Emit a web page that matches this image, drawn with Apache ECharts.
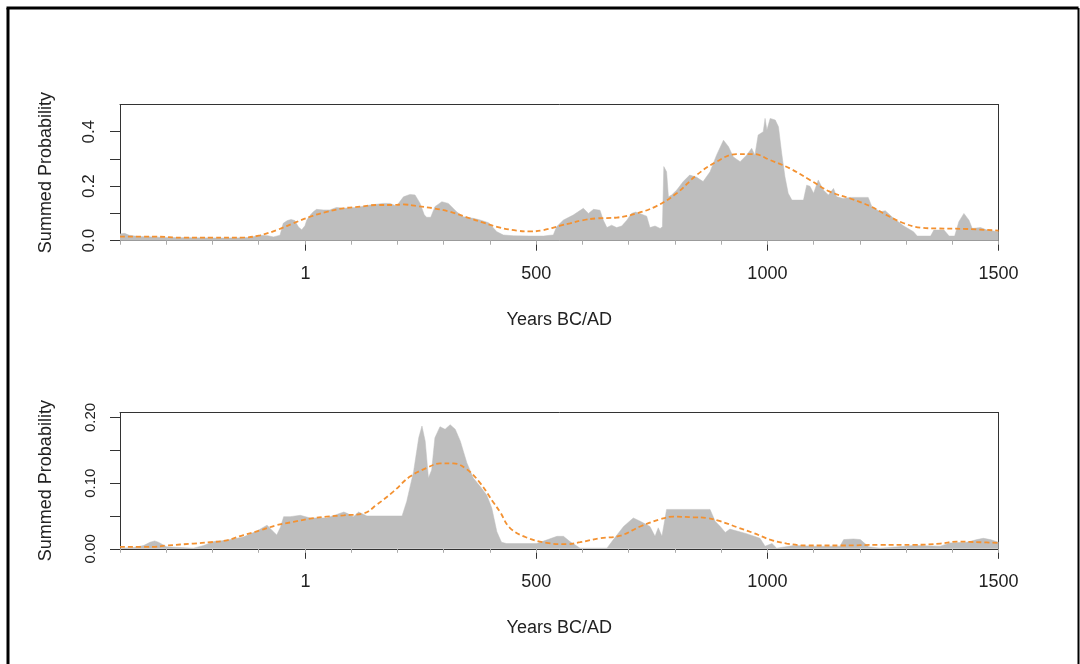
<!DOCTYPE html>
<html><head><meta charset="utf-8">
<script src="https://cdn.jsdelivr.net/npm/echarts@6/dist/echarts.min.js"></script>
<style>html,body{margin:0;padding:0;background:#fff}#c{width:1080px;height:664px}</style>
</head><body><div id="c"></div>
<script>
// Years BC/AD (negative = BC)
const xMajorTicks = [1, 500, 1000, 1500];
const xMajorLabels = ['1', '500', '1000', '1500'];
const topYTicks = [0, 0.1, 0.2, 0.3, 0.4];
const topYLabels = [0, 0.2, 0.4];
const botYTicks = [0, 0.05, 0.1, 0.15, 0.2];
const botYLabels = [0, 0.1, 0.2];

// Top panel: summed probability (grey) [year, value]
const topSummed = [
[-400,0.025],[-390,0.027],[-380,0.02],[-360,0.015],[-330,0.014],[-300,0.012],[-250,0.011],[-200,0.01],[-150,0.01],[-120,0.012],[-97,0.02],[-80,0.018],[-68,0.014],[-54,0.02],[-47,0.064],[-38,0.074],[-30,0.078],[-22,0.074],[-14,0.05],[-7,0.04],[0,0.055],[4,0.076],[12,0.095],[18,0.106],[25,0.115],[40,0.113],[54,0.113],[68,0.122],[83,0.119],[112,0.122],[141,0.131],[169,0.137],[184,0.137],[198,0.127],[213,0.161],[227,0.17],[238,0.168],[249,0.137],[258,0.095],[263,0.086],[272,0.086],[281,0.125],[296,0.143],[310,0.137],[328,0.106],[342,0.088],[364,0.082],[379,0.076],[397,0.066],[415,0.033],[429,0.021],[451,0.018],[487,0.017],[516,0.017],[530,0.02],[537,0.021],[544,0.051],[559,0.076],[580,0.094],[602,0.119],[613,0.1],[624,0.115],[638,0.112],[645,0.076],[653,0.048],[663,0.057],[674,0.048],[685,0.054],[696,0.075],[706,0.1],[715,0.105],[724,0.1],[739,0.09],[746,0.048],[757,0.054],[768,0.045],[773,0.051],[776,0.272],[782,0.253],[786,0.161],[793,0.168],[804,0.186],[818,0.217],[832,0.241],[847,0.233],[861,0.217],[876,0.253],[890,0.314],[905,0.369],[916,0.345],[926,0.308],[941,0.29],[955,0.314],[966,0.339],[973,0.314],[980,0.388],[991,0.4],[995,0.449],[999,0.406],[1006,0.449],[1017,0.443],[1024,0.418],[1031,0.32],[1038,0.235],[1045,0.174],[1053,0.149],[1078,0.149],[1085,0.204],[1092,0.2],[1100,0.174],[1110,0.223],[1121,0.186],[1132,0.168],[1143,0.192],[1150,0.161],[1164,0.155],[1179,0.159],[1218,0.159],[1226,0.125],[1244,0.106],[1255,0.11],[1273,0.082],[1295,0.054],[1316,0.033],[1324,0.017],[1353,0.017],[1360,0.039],[1382,0.039],[1393,0.017],[1405,0.017],[1414,0.07],[1425,0.1],[1436,0.075],[1443,0.045],[1461,0.048],[1475,0.039],[1500,0.033]
];
// Top panel: fitted curve (orange dashed)
const topFit = [
[-400,0.015],[-330,0.015],[-260,0.011],[-200,0.011],[-130,0.012],[-97,0.02],[-61,0.039],[-25,0.064],[11,0.088],[47,0.106],[83,0.119],[119,0.125],[155,0.131],[191,0.131],[213,0.133],[242,0.127],[278,0.119],[314,0.106],[350,0.086],[386,0.066],[422,0.048],[458,0.037],[487,0.034],[516,0.039],[552,0.055],[573,0.064],[600,0.075],[631,0.082],[674,0.085],[717,0.1],[760,0.127],[804,0.174],[847,0.241],[890,0.29],[933,0.318],[970,0.318],[1006,0.296],[1049,0.265],[1092,0.223],[1135,0.18],[1179,0.155],[1222,0.127],[1258,0.094],[1295,0.064],[1331,0.048],[1367,0.045],[1432,0.043],[1500,0.037]
];
// Bottom panel: summed probability (grey)
const botSummed = [
[-400,0.001],[-370,0.002],[-349,0.005],[-335,0.01],[-325,0.012],[-317,0.01],[-299,0.003],[-241,0.001],[-219,0.005],[-197,0.011],[-169,0.013],[-133,0.018],[-104,0.027],[-82,0.036],[-71,0.028],[-61,0.021],[-53,0.033],[-46,0.049],[-32,0.049],[-10,0.051],[11,0.047],[47,0.047],[84,0.056],[91,0.054],[105,0.049],[116,0.056],[134,0.05],[210,0.05],[220,0.072],[235,0.118],[246,0.169],[253,0.187],[260,0.164],[267,0.108],[274,0.12],[281,0.169],[292,0.186],[303,0.182],[314,0.189],[325,0.182],[336,0.164],[350,0.131],[364,0.108],[379,0.095],[393,0.082],[404,0.062],[415,0.026],[425,0.01],[436,0.008],[501,0.008],[545,0.019],[559,0.019],[573,0.011],[595,0.001],[653,0.001],[667,0.014],[689,0.034],[710,0.047],[725,0.042],[746,0.034],[757,0.019],[764,0.032],[772,0.019],[782,0.06],[876,0.06],[887,0.042],[898,0.034],[909,0.025],[919,0.03],[955,0.023],[984,0.016],[995,0.004],[1010,0.008],[1020,0.001],[1057,0.005],[1100,0.004],[1157,0.004],[1165,0.014],[1186,0.015],[1201,0.014],[1219,0.003],[1244,0.001],[1316,0.005],[1374,0.004],[1395,0.009],[1431,0.01],[1453,0.014],[1467,0.016],[1482,0.014],[1500,0.01]
];
// Bottom panel: fitted curve (orange dashed)
const botFit = [
[-400,0.003],[-330,0.003],[-299,0.005],[-241,0.008],[-205,0.01],[-169,0.013],[-133,0.021],[-97,0.028],[-61,0.036],[-25,0.041],[11,0.046],[47,0.049],[84,0.051],[127,0.054],[155,0.067],[191,0.087],[227,0.11],[263,0.123],[292,0.13],[321,0.13],[350,0.121],[379,0.1],[408,0.07],[422,0.056],[443,0.032],[480,0.017],[523,0.009],[566,0.007],[595,0.01],[638,0.016],[682,0.02],[725,0.034],[768,0.045],[797,0.049],[840,0.048],[869,0.047],[898,0.042],[934,0.033],[970,0.024],[1006,0.014],[1042,0.008],[1085,0.005],[1157,0.005],[1244,0.006],[1316,0.006],[1374,0.008],[1410,0.011],[1460,0.01],[1500,0.009]
];

const FONT = 'Liberation Sans, Arial, sans-serif';
const TXT = '#222';
const AX = '#333';
const GREY = '#bebebe';
const ORANGE = '#f39131';
const XMIN = -400, XMAX = 1500;

function xAxes(gi) {
  return [
    { gridIndex: gi, type: 'value', position: 'bottom', min: XMIN, max: XMAX,
      axisLine: { show: true, onZero: false, lineStyle: { color: AX, width: 1 } },
      axisTick: { show: true, length: 10, customValues: xMajorTicks, lineStyle: { color: AX } },
      axisLabel: { show: true, customValues: xMajorTicks, margin: 24, fontSize: 18, fontFamily: FONT, color: TXT,
        formatter: v => xMajorLabels[xMajorTicks.indexOf(v)] ?? String(v) },
      splitLine: { show: false },
      name: 'Years BC/AD', nameLocation: 'middle', nameGap: 70,
      nameTextStyle: { fontSize: 18, fontFamily: FONT, color: TXT } },
    { gridIndex: gi, type: 'value', position: 'bottom', min: XMIN, max: XMAX, interval: 100,
      axisLine: { show: false }, axisLabel: { show: false }, splitLine: { show: false },
      axisTick: { show: true, length: 4, lineStyle: { color: '#aaa' } } },
    { gridIndex: gi, type: 'value', position: 'top', min: XMIN, max: XMAX,
      axisLine: { show: true, onZero: false, lineStyle: { color: AX, width: 1 } },
      axisTick: { show: false }, axisLabel: { show: false }, splitLine: { show: false } }
  ];
}
function yAxes(gi, max, ticks, labels, dec, fs) {
  return [
    { gridIndex: gi, type: 'value', position: 'left', min: 0, max: max,
      axisLine: { show: true, onZero: false, lineStyle: { color: AX, width: 1 } },
      axisTick: { show: true, length: 10, customValues: ticks, lineStyle: { color: AX } },
      axisLabel: { show: true, customValues: labels, rotate: 90, margin: 22, fontSize: fs, fontFamily: FONT, color: TXT,
        formatter: v => Number(v).toFixed(dec) },
      splitLine: { show: false },
      name: 'Summed Probability', nameLocation: 'middle', nameGap: 65, nameRotate: 90,
      nameTextStyle: { fontSize: 18, fontFamily: FONT, color: TXT } },
    { gridIndex: gi, type: 'value', position: 'right', min: 0, max: max,
      axisLine: { show: true, onZero: false, lineStyle: { color: AX, width: 1 } },
      axisTick: { show: false }, axisLabel: { show: false }, splitLine: { show: false } }
  ];
}
function areaSeries(xi, yi, data) {
  return { type: 'line', xAxisIndex: xi, yAxisIndex: yi, data: data, showSymbol: false, symbol: 'none',
    lineStyle: { width: 0.5, color: GREY }, areaStyle: { color: GREY, opacity: 1 }, itemStyle: { color: GREY },
    silent: true, z: 2 };
}
function fitSeries(xi, yi, data) {
  return { type: 'line', xAxisIndex: xi, yAxisIndex: yi, data: data, showSymbol: false, symbol: 'none', smooth: 0.4,
    lineStyle: { width: 1.8, color: ORANGE, type: [5, 3] }, itemStyle: { color: ORANGE }, silent: true, z: 3 };
}

const chart = echarts.init(document.getElementById('c'), null, { renderer: 'canvas' });
chart.setOption({
  animation: false,
  backgroundColor: '#fff',
  grid: [
    { left: 120, top: 104.5, width: 878.6, height: 136.2, containLabel: false, outerBoundsMode: 'none' },
    { left: 120, top: 412.5, width: 878.6, height: 136.3, containLabel: false, outerBoundsMode: 'none' }
  ],
  xAxis: [...xAxes(0), ...xAxes(1)],
  yAxis: [...yAxes(0, 0.5, topYTicks, topYLabels, 1, 17), ...yAxes(1, 0.2076, botYTicks, botYLabels, 2, 15)],
  series: [
    areaSeries(0, 0, topSummed), fitSeries(0, 0, topFit),
    areaSeries(3, 2, botSummed), fitSeries(3, 2, botFit)
  ],
  graphic: [
    { type: 'line', shape: { x1: 8, y1: 8, x2: 8, y2: 664 }, style: { stroke: '#000', lineWidth: 3 } },
    { type: 'line', shape: { x1: 6.5, y1: 8, x2: 1078.5, y2: 8 }, style: { stroke: '#000', lineWidth: 3 } },
    { type: 'line', shape: { x1: 1078.5, y1: 8, x2: 1078.5, y2: 664 }, style: { stroke: '#000', lineWidth: 2 } }
  ]
});
</script></body></html>
